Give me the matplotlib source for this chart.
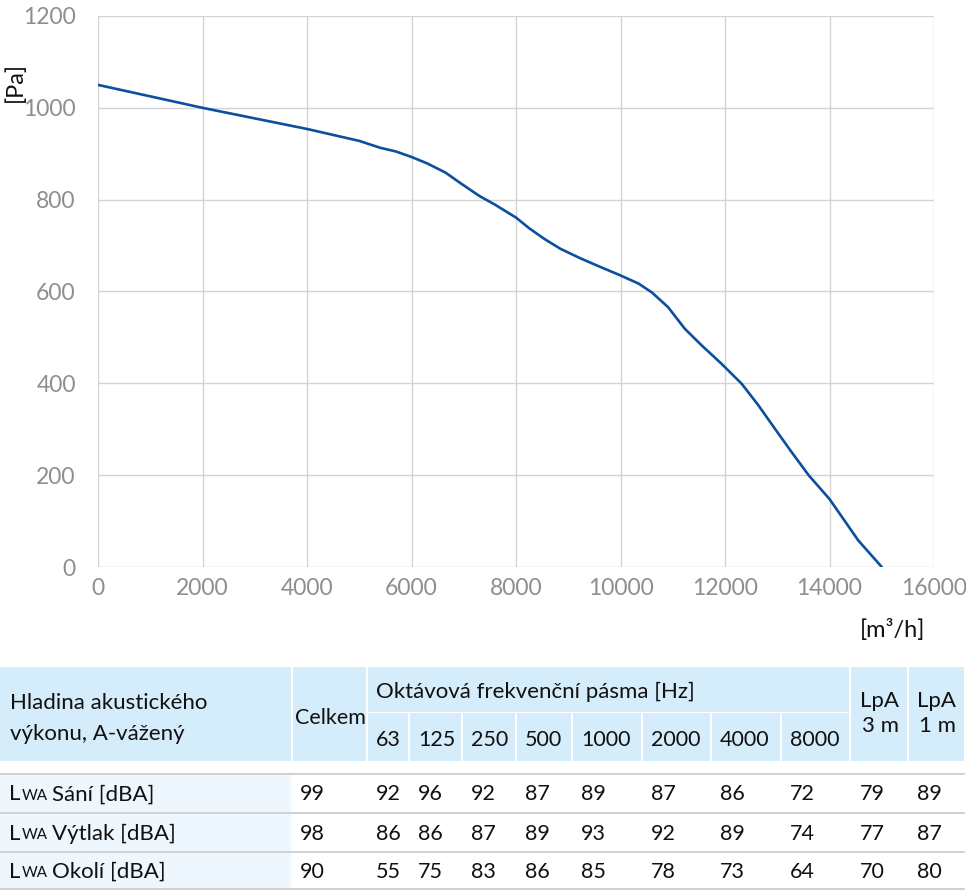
import numpy as np
import matplotlib
matplotlib.use('Agg')
import matplotlib.pyplot as plt
from matplotlib.patches import Rectangle

plt.rcParams['font.family'] = ['Lato', 'DejaVu Sans']

# fan curve
flow = [0, 1000, 2000, 3000, 4000, 5000, 5400, 5700, 6000, 6300, 6650, 6950,
        7300, 7600, 8000, 8250, 8550, 8850, 9200, 9500, 10000, 10350, 10600,
        10910, 11230, 11550, 11930, 12320, 12640, 12950, 13270,
        13600, 14000, 14550, 15000]
pressure = [1050, 1025, 1000, 977, 954, 928, 913, 905, 893, 879, 859, 835,
            808, 789, 761, 738, 714, 693, 674, 659, 635, 617, 598,
            566, 519, 483, 443, 399, 352, 302, 251,
            200, 148, 58, 0]

# acoustic table
bands = ['63', '125', '250', '500', '1000', '2000', '4000', '8000']
row_names = ['Sání [dBA]', 'Výtlak [dBA]', 'Okolí [dBA]']
total = [99, 98, 90]
band_vals = [[92, 96, 92, 87, 89, 87, 86, 72],
             [86, 86, 87, 89, 93, 92, 89, 74],
             [55, 75, 83, 86, 85, 78, 73, 64]]
lpa3 = [79, 77, 70]
lpa1 = [89, 87, 80]

W, H = 966, 892
fig = plt.figure(figsize=(W/100, H/100), dpi=100)

def px(x, y):
    return x/W, 1 - y/H

ax = fig.add_axes([98/W, 1-567/H, (934-98)/W, (567-16)/H])
ax.plot(flow, pressure, color='#0b4f9e', lw=1.9, solid_capstyle='round',
        solid_joinstyle='round')
ax.set_xlim(0, 16000)
ax.set_ylim(0, 1200)
ax.set_xticks(np.arange(0, 16001, 2000))
ax.set_yticks(np.arange(0, 1201, 200))
ax.grid(True, color='#d4d4d4', lw=1)
for s in ax.spines.values():
    s.set_visible(False)
ax.tick_params(length=0, labelsize=16.5, colors='#8e8e8e')
ax.tick_params(axis='y', pad=16)
ax.tick_params(axis='x', pad=8)
ax.set_axisbelow(True)

fig.text(*px(15, 82), '[Pa]', rotation=90, ha='center', va='center', fontsize=17, color='#111')
fig.text(*px(893, 630), '[m³/h]', ha='center', va='center', fontsize=17, color='#111')

# table geometry (pixels)
col_edges = [0, 292, 367, 409, 462, 516, 572, 642, 711, 781, 850, 908, 964]
head_top, head_bot = 667, 761
row_lines = [774, 813, 852, 889]
hdr_bg = '#d5ecfa'
lab_bg = '#eef7fd'

def rect(x0, y0, x1, y1, color):
    fig.patches.append(Rectangle((x0/W, 1-y1/H), (x1-x0)/W, (y1-y0)/H,
                                 transform=fig.transFigure, facecolor=color,
                                 edgecolor='none', zorder=0))

# header cells
rect(0, head_top, 291, head_bot, hdr_bg)
rect(293, head_top, 366, head_bot, hdr_bg)
rect(368, head_top, 849, 712, hdr_bg)
for i in range(2, 10):
    rect(col_edges[i]+1, 713, col_edges[i+1]-1, head_bot, hdr_bg)
rect(851, head_top, 907, head_bot, hdr_bg)
rect(909, head_top, 964, head_bot, hdr_bg)

# row label backgrounds and separators
for r in range(3):
    rect(0, row_lines[r]+1, 291, row_lines[r+1]-1, lab_bg)
for y in row_lines:
    fig.add_artist(plt.Line2D([0, 964/W], [1-y/H]*2, color='#c8c8c8', lw=1.2,
                              transform=fig.transFigure))

fs = 16
tc = '#111111'
fig.text(*px(10, 703), 'Hladina akustického', fontsize=fs, color=tc, va='center')
fig.text(*px(10, 734), 'výkonu, A-vážený', fontsize=fs, color=tc, va='center')
fig.text(*px(295, 718), 'Celkem', fontsize=15.5, color=tc, va='center')
fig.text(*px(376, 692), 'Oktávová frekvenční pásma [Hz]', fontsize=fs, color=tc, va='center')
for i, b in enumerate(bands):
    fig.text(*px(col_edges[i+2]+9, 740), b, fontsize=15.5, color=tc, va='center')
fig.text(*px(860, 701), 'LpA', fontsize=fs, color=tc, va='center')
fig.text(*px(862, 726), '3 m', fontsize=fs, color=tc, va='center')
fig.text(*px(917, 701), 'LpA', fontsize=fs, color=tc, va='center')
fig.text(*px(919, 726), '1 m', fontsize=fs, color=tc, va='center')

for r in range(3):
    yc = (row_lines[r] + row_lines[r+1]) / 2 + 1
    fig.text(*px(9, yc), 'L', fontsize=fs, color=tc, va='center')
    fig.text(px(22, 0)[0], 1-(yc+1.5)/H, 'WA', fontsize=11, color=tc, va='center')
    fig.text(*px(52, yc), row_names[r], fontsize=fs, color=tc, va='center')
    vals = [total[r]] + band_vals[r] + [lpa3[r], lpa1[r]]
    xs = [300] + [col_edges[i+2]+9 for i in range(8)] + [860, 917]
    for x, v in zip(xs, vals):
        fig.text(*px(x, yc), str(v), fontsize=15.5, color=tc, va='center')

fig.savefig('out.png', dpi=100)
